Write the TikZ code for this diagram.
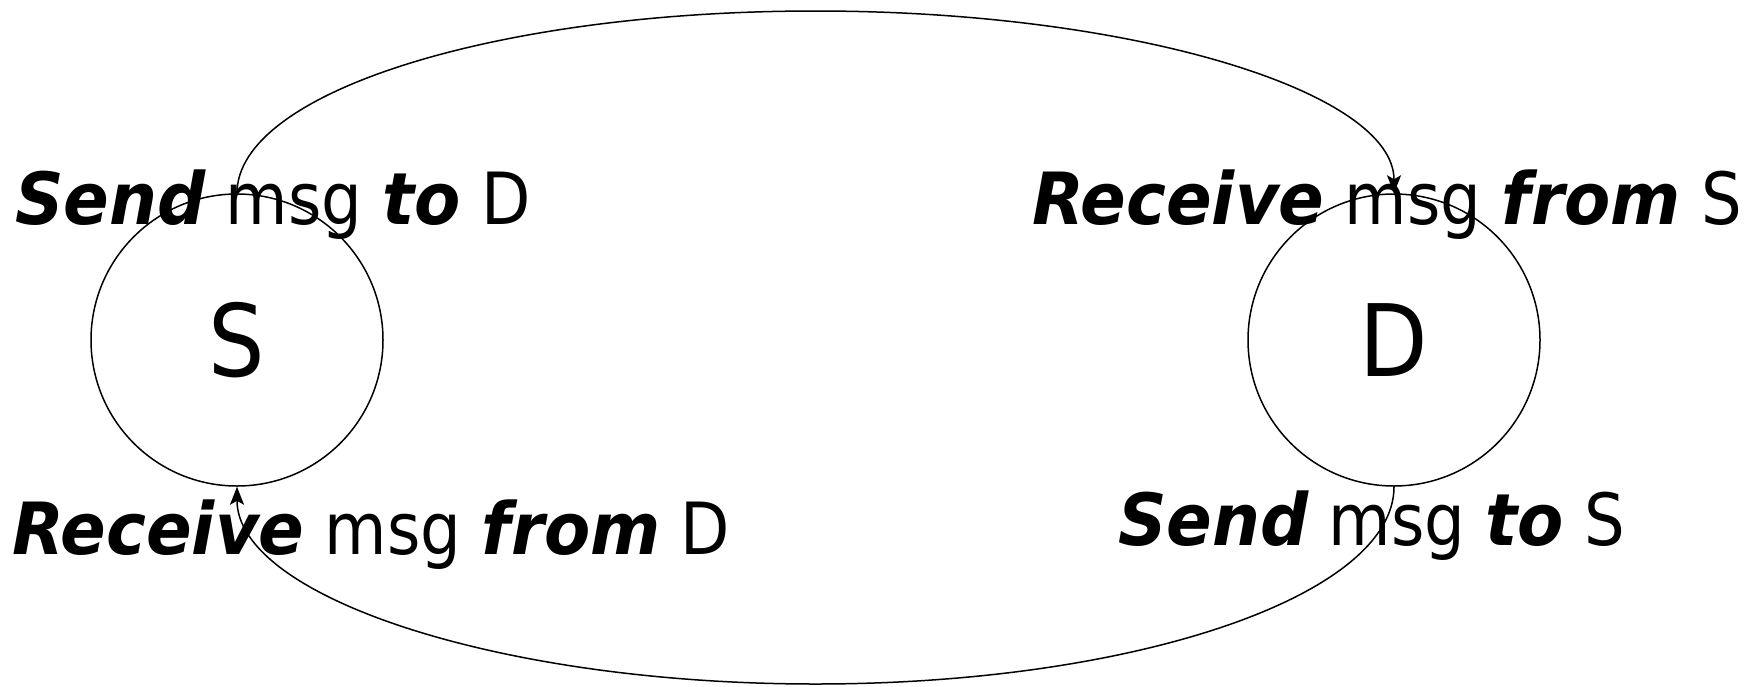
\documentclass[tikz,border=0pt]{standalone}
\usepackage{fontspec}
\setmainfont{DejaVu Sans}[FakeStretch=0.89]
\newfontfamily\kwfont{DejaVu Sans}[FakeStretch=0.935]
\usetikzlibrary{arrows.meta}
\tikzset{
  state/.style={draw, circle, minimum size=292pt, inner sep=0pt, line width=1.5pt, font=\fontsize{100}{120}\selectfont},
  lab/.style={anchor=base west, inner sep=0pt, font=\fontsize{72}{86}\selectfont},
  conn/.style={line width=1.5pt, -{Stealth[length=18pt, width=14pt, inset=4pt]}}
}
\newcommand{\kw}[1]{{\kwfont\bfseries\itshape #1}}
\begin{document}
\begin{tikzpicture}[x=1pt, y=-1pt]
\useasboundingbox (0,0) rectangle (1764,686);
\node[state] (S) at (237,340) {S};
\node[state] (D) at (1394,340) {D};
\coordinate (topmid) at (815.5,11);
\coordinate (botmid) at (815.5,684);
\draw[conn] (S.north) .. controls +(0,-101) and +(-319.5,0) .. (topmid)
  .. controls +(319.5,0) and +(0,-101) .. (D.north);
\draw[conn] (D.south) .. controls +(0,109) and +(319.5,0) .. (botmid)
  .. controls +(-319.5,0) and +(0,109) .. (S.south);
\node[lab] (t1) at (15,224) {\kw{Send} msg \kw{to} D};
\node[lab] (t2) at (1032,224) {\kw{Receive} msg \kw{from} S};
\node[lab] (t3) at (12,554) {\kw{Receive} msg \kw{from} D};
\node[lab] (t4) at (1118,545) {\kw{Send} msg \kw{to} S};
\end{tikzpicture}
\end{document}
